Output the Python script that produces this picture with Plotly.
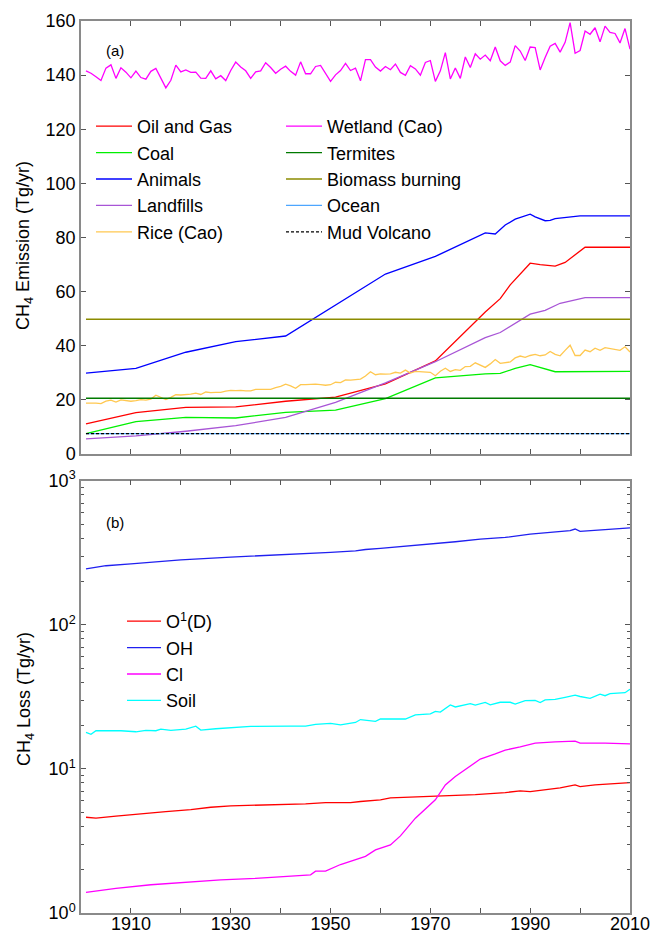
import plotly.graph_objects as go

# ---------------- data: panel (a) emissions (Tg/yr) ----------------
years = list(range(1901, 2011))

wetland = [141.6, 140.7, 139.4, 138.0, 142.6, 143.8, 138.8, 142.7, 141.1, 139.0,
           141.5, 139.1, 138.5, 141.4, 142.5, 138.8, 135.3, 138.1, 143.7, 141.2,
           141.9, 141.0, 141.1, 138.9, 138.8, 141.6, 138.6, 139.8, 138.0, 141.7,
           144.8, 143.0, 141.6, 138.8, 141.2, 141.6, 144.6, 142.8, 140.7, 142.2,
           143.3, 141.4, 140.0, 144.9, 140.5, 140.5, 143.2, 143.6, 140.5, 137.7,
           140.1, 141.7, 144.3, 141.7, 142.6, 137.9, 145.7, 145.7, 143.0, 141.5,
           143.2, 142.0, 144.1, 141.0, 139.9, 143.5, 142.3, 140.0, 144.7, 145.4,
           137.7, 141.6, 148.3, 138.6, 142.6, 138.8, 146.7, 142.8, 147.9, 145.9,
           147.4, 145.3, 150.4, 145.3, 143.6, 144.8, 150.9, 148.9, 145.4, 150.4,
           150.2, 141.9, 146.5, 150.7, 151.7, 148.5, 152.1, 159.4, 148.1, 149.1,
           156.3, 155.1, 157.5, 152.3, 158.1, 155.8, 155.4, 151.9, 157.2, 149.6]

rice = [18.8, 18.9, 18.8, 18.6, 19.5, 19.9, 19.2, 20.0, 19.8, 19.5,
        19.7, 20.1, 19.9, 20.3, 21.7, 20.8, 20.1, 20.9, 21.9, 21.8,
        21.9, 22.1, 22.5, 22.0, 22.9, 22.7, 22.8, 22.8, 23.2, 23.5,
        23.4, 23.5, 23.3, 23.3, 23.9, 23.9, 24.0, 23.9, 24.5, 25.0,
        25.8, 25.2, 24.3, 25.6, 25.6, 25.8, 25.8, 25.6, 25.4, 25.6,
        26.5, 26.4, 27.4, 27.3, 27.5, 27.7, 28.8, 30.4, 29.3, 29.6,
        29.5, 29.6, 30.2, 29.9, 31.0, 29.9, 30.5, 30.4, 30.2, 30.2,
        28.9, 30.6, 31.7, 30.5, 31.2, 30.9, 32.3, 32.4, 33.7, 32.9,
        32.0, 33.3, 34.9, 33.5, 33.8, 34.0, 35.5, 36.2, 35.7, 36.4,
        36.8, 36.3, 36.6, 37.9, 36.8, 36.3, 38.3, 40.2, 36.4, 36.4,
        38.4, 37.8, 39.1, 38.3, 39.3, 38.9, 38.6, 38.3, 39.6, 37.7]

oil_years = [1901, 1911, 1921, 1931, 1941, 1951, 1961, 1971, 1981, 1984, 1986,
             1990, 1992, 1995, 1997, 2001, 2010]
oil = [11.1, 15.3, 17.2, 17.4, 19.5, 21.0, 25.9, 34.4, 52.5, 57.4, 62.5,
       70.5, 70.0, 69.4, 70.8, 76.4, 76.4]

coal_years = [1901, 1911, 1921, 1931, 1941, 1951, 1961, 1971, 1981, 1984, 1987,
              1990, 1995, 2010]
coal = [7.5, 12.0, 13.5, 13.3, 15.4, 16.2, 20.5, 28.1, 29.6, 29.8, 31.6,
        33.0, 30.4, 30.5]

animals_years = [1901, 1911, 1921, 1931, 1941, 1961, 1971, 1980, 1981, 1983,
                 1985, 1987, 1990, 1991, 1993, 1994, 1995, 2000, 2010]
animals = [29.9, 31.6, 37.6, 41.5, 43.6, 66.5, 73.0, 81.0, 81.7, 81.3,
           84.6, 86.8, 88.6, 87.6, 86.2, 86.3, 87.0, 88.0, 88.0]

landfill_years = [1901, 1911, 1921, 1931, 1941, 1951, 1961, 1971, 1981, 1984,
                  1990, 1993, 1996, 2001, 2010]
landfills = [5.6, 6.7, 8.4, 10.5, 13.5, 19.1, 26.3, 34.1, 43.0, 44.9,
             51.7, 53.1, 55.7, 57.8, 57.8]

const_years = [1901, 2010]
termites = [20.6, 20.6]
biomass = [49.8, 49.8]
ocean = [7.5, 7.5]
mud_volcano = [7.5, 7.5]

# ---------------- data: panel (b) losses (Tg/yr) ----------------
oh_years = [1901, 1905, 1910, 1917, 1920, 1930, 1940, 1950, 1955, 1957, 1960,
            1965, 1970, 1975, 1980, 1985, 1990, 1995, 1998, 1999, 2000, 2005, 2010]
oh = [244, 257, 265, 278, 282, 295, 305, 318, 326, 333, 339,
      350, 363, 377, 393, 404, 426, 441, 450, 462, 445, 457, 470]

o1d_years = [1901, 1903, 1907, 1913, 1917, 1922, 1926, 1930, 1935, 1940, 1945,
             1949, 1954, 1956, 1960, 1962, 1967, 1970, 1973, 1979, 1985, 1988,
             1990, 1993, 1996, 1999, 2000, 2003, 2006, 2010]
o1d = [4.62, 4.55, 4.70, 4.93, 5.06, 5.22, 5.42, 5.54, 5.60, 5.66, 5.72,
       5.84, 5.84, 5.94, 6.10, 6.29, 6.39, 6.49, 6.57, 6.64, 6.85, 7.03,
       6.96, 7.19, 7.38, 7.74, 7.54, 7.74, 7.87, 8.04]

cl_years = [1901, 1907, 1914, 1921, 1928, 1935, 1942, 1946, 1947, 1949, 1952,
            1954, 1957, 1959, 1962, 1964, 1967, 1971, 1973, 1975, 1978, 1980,
            1983, 1985, 1988, 1991, 1995, 1999, 2000, 2005, 2010]
cl = [1.39, 1.48, 1.57, 1.64, 1.70, 1.74, 1.80, 1.84, 1.95, 1.95, 2.17,
      2.29, 2.47, 2.74, 2.97, 3.43, 4.55, 6.10, 7.74, 8.85, 10.4, 11.7,
      12.7, 13.5, 14.2, 15.1, 15.4, 15.6, 15.1, 15.1, 14.9]

soil_years = [1901, 1902, 1903, 1905, 1908, 1911, 1913, 1915, 1916, 1918, 1921,
              1923, 1924, 1927, 1930, 1934, 1942, 1945, 1947, 1950, 1952, 1954,
              1955, 1956, 1959, 1960, 1965, 1967, 1970, 1971, 1972, 1974, 1975,
              1978, 1979, 1981, 1982, 1984, 1986, 1987, 1989, 1991, 1992, 1993,
              1995, 1997, 1999, 2000, 2002, 2004, 2005, 2006, 2009, 2010]
soil = [17.9, 17.4, 18.4, 18.4, 18.4, 18.1, 18.5, 18.4, 18.9, 18.5, 18.9,
        19.8, 18.6, 19.0, 19.2, 19.7, 19.8, 19.8, 20.4, 20.7, 20.2, 20.9,
        21.0, 22.0, 21.4, 22.2, 22.2, 23.7, 24.1, 25.1, 24.8, 27.8, 26.9,
        28.4, 27.7, 28.9, 27.8, 29.0, 29.0, 28.2, 29.8, 29.9, 28.9, 30.1,
        30.4, 31.4, 32.5, 31.8, 30.9, 33.0, 32.2, 33.3, 33.8, 35.7]

x_tick_years = list(range(1910, 2011, 10))
x_tick_text = [str(y) if (y - 1910) % 20 == 0 else "" for y in x_tick_years]
emis_ticks = list(range(0, 161, 20))
loss_ticks = [1, 10, 100, 1000]
loss_tick_text = ["10<sup>0</sup>", "10<sup>1</sup>", "10<sup>2</sup>", "10<sup>3</sup>"]
loss_minor = [m * d for d in (1, 10, 100) for m in range(2, 10)]

FONT = "Liberation Sans, Arial, Helvetica, sans-serif"
FS = 18
LW = 1.3

fig = go.Figure()

def add(xv, yv, name, color, legend, xa="x", ya="y", dash="solid"):
    fig.add_trace(go.Scatter(x=xv, y=yv, name=name, mode="lines",
                             line=dict(color=color, width=LW, dash=dash),
                             xaxis=xa, yaxis=ya, legend=legend))

# column 1 of legend (a)
add(oil_years, oil, "Oil and Gas", "#FF0000", "legend")
add(coal_years, coal, "Coal", "#00F000", "legend")
add(animals_years, animals, "Animals", "#0000FF", "legend")
add(landfill_years, landfills, "Landfills", "#A855D6", "legend")
add(years, rice, "Rice (Cao)", "#FFC850", "legend")
# column 2 of legend (a)
add(years, wetland, "Wetland (Cao)", "#FF00FF", "legend2")
add(const_years, termites, "Termites", "#007A00", "legend2")
add(const_years, biomass, "Biomass burning", "#8B8B00", "legend2")
add(const_years, ocean, "Ocean", "#4DA6FF", "legend2")
add(const_years, mud_volcano, "Mud Volcano", "#000000", "legend2", dash="3px,2px")
# panel (b)
add(o1d_years, o1d, "O<sup>1</sup>(D)", "#FF0000", "legend3", "x2", "y2")
add(oh_years, oh, "OH", "#2020F0", "legend3", "x2", "y2")
add(cl_years, cl, "Cl", "#FF00FF", "legend3", "x2", "y2")
add(soil_years, soil, "Soil", "#00FFFF", "legend3", "x2", "y2")

AX = dict(showline=True, linecolor="#8a8a8a", linewidth=1.5, mirror="ticks",
          ticks="inside", tickcolor="#555555", tickwidth=1, ticklen=5,
          showgrid=False, zeroline=False, automargin=False,
          tickfont=dict(family=FONT, size=FS, color="black"))

# pixel geometry helpers (plot area: x 81..630, y 21..913)
T, B, L, W = 21, 913, 81, 549
H = B - T

def py(pix):
    return (B - pix) / H

def px(pix):
    return (pix - L) / W

top_dom = [py(454), 1.0]
bot_dom = [0.0, py(480.7)]

fig.update_layout(
    template="none",
    width=652, height=935,
    margin=dict(l=81, r=22, t=21, b=22, autoexpand=False),
    plot_bgcolor="white", paper_bgcolor="white",
    font=dict(family=FONT, size=FS, color="black"),
    xaxis=dict(AX, range=[1900, 2010], domain=[0, 1], anchor="y",
               tickvals=x_tick_years, showticklabels=False),
    yaxis=dict(AX, range=[0, 160], domain=top_dom, anchor="x",
               tickvals=emis_ticks),
    xaxis2=dict(AX, range=[1900, 2010], domain=[0, 1], anchor="y2",
                tickvals=x_tick_years, ticktext=x_tick_text,
                ticklabelstandoff=-6),
    yaxis2=dict(AX, type="log", range=[0, 3], domain=bot_dom, anchor="x2",
                tickvals=loss_ticks, ticktext=loss_tick_text,
                minor=dict(tickvals=loss_minor, ticks="inside", ticklen=3,
                           tickcolor="#555555")),
    legend=dict(x=px(91), y=py(108), xanchor="left", yanchor="top",
                itemwidth=36,
                bgcolor="rgba(0,0,0,0)", font=dict(family=FONT, size=FS)),
    legend2=dict(x=px(281), y=py(108), xanchor="left", yanchor="top",
                 itemwidth=36,
                 bgcolor="rgba(0,0,0,0)", font=dict(family=FONT, size=FS)),
    legend3=dict(x=px(122), y=py(603), xanchor="left", yanchor="top",
                 itemwidth=34,
                 bgcolor="rgba(0,0,0,0)", font=dict(family=FONT, size=FS)),
    showlegend=True,
    annotations=[
        dict(text="(a)", x=px(115), y=py(50), xanchor="center", yanchor="middle",
             xref="paper", yref="paper", showarrow=False,
             font=dict(family=FONT, size=15)),
        dict(text="(b)", x=px(115), y=py(522), xanchor="center", yanchor="middle",
             xref="paper", yref="paper", showarrow=False,
             font=dict(family=FONT, size=15)),
        dict(text="CH<sub>4</sub> Emission (Tg/yr)", x=px(25), y=py(245),
             xanchor="center", yanchor="middle", xref="paper", yref="paper",
             showarrow=False, textangle=-90, font=dict(family=FONT, size=FS)),
        dict(text="CH<sub>4</sub> Loss (Tg/yr)", x=px(25), y=py(699),
             xanchor="center", yanchor="middle", xref="paper", yref="paper",
             showarrow=False, textangle=-90, font=dict(family=FONT, size=FS)),
    ],
)

fig.write_html("out.html",
               config={"displayModeBar": False},
               post_script="document.body.style.margin='0';"
                           "document.body.style.padding='0';")
